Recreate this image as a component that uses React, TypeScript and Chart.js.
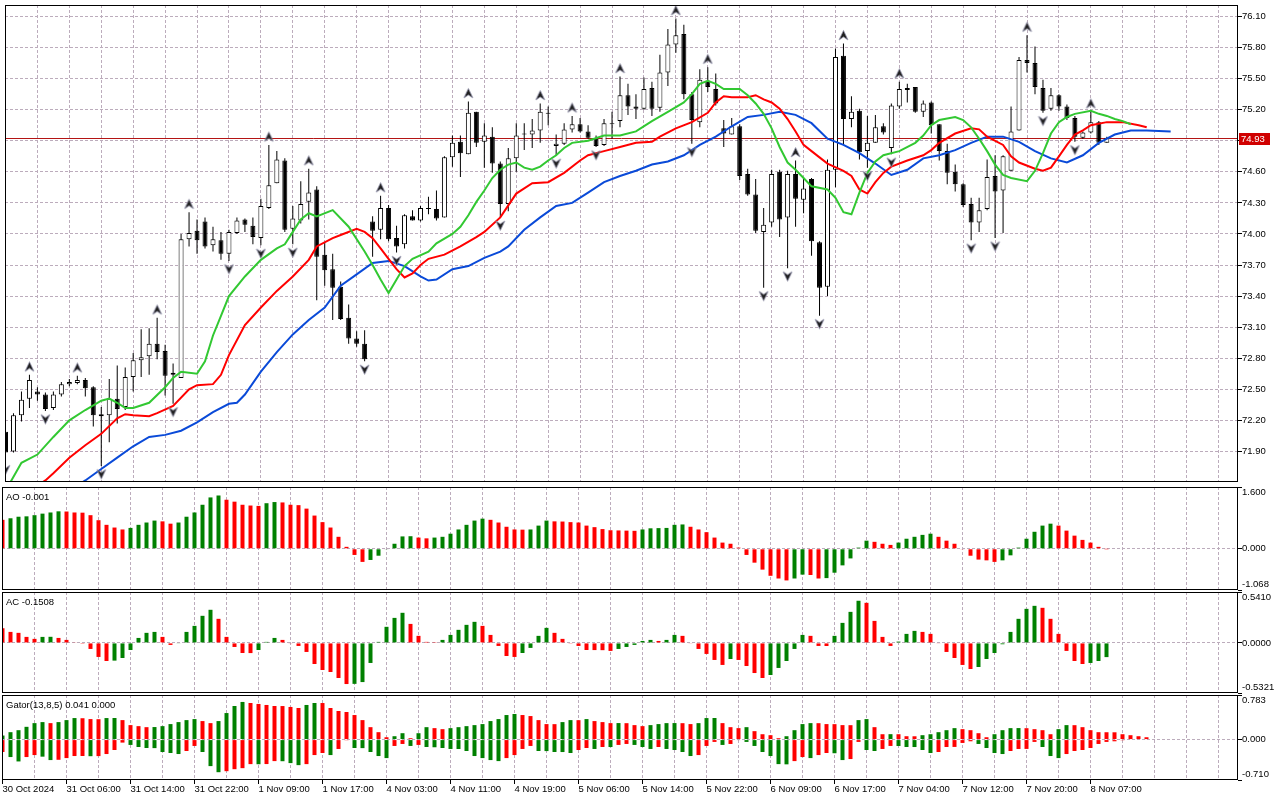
import React, { useEffect, useRef } from "react";
import { Chart, registerables } from "chart.js";

Chart.register(...registerables);

// ---------------- data ----------------
const opens = [72.09,71.90,72.25,72.41,72.48,72.45,72.32,72.45,72.55,72.56,72.59,72.52,72.26,72.25,72.41,72.33,72.62,72.78,72.82,72.94,72.87,72.66,72.61,73.95,74.03,74.12,73.89,73.94,73.81,74.01,74.14,74.08,73.96,74.25,74.49,74.71,74.05,74.13,74.31,74.43,73.80,73.66,73.49,73.19,72.99,72.94,74.12,74.04,74.25,73.96,73.90,74.17,74.13,74.25,74.24,74.16,74.74,74.89,74.77,75.18,74.89,74.94,74.68,74.29,74.73,74.96,74.96,75.00,75.17,74.85,74.87,75.01,75.06,74.99,74.92,74.86,75.06,75.09,75.34,75.23,75.21,75.41,75.22,75.56,75.83,75.93,75.35,75.08,75.48,75.40,75.02,74.96,75.04,74.58,74.38,74.02,74.11,74.60,74.16,74.58,74.33,74.53,73.92,73.49,74.62,75.72,75.11,75.19,74.80,74.88,75.04,74.83,75.23,75.39,75.42,75.18,75.27,75.06,74.80,74.60,74.48,74.29,74.11,74.24,74.56,74.42,74.61,75.00,75.68,75.65,75.41,75.21,75.34,75.23,75.12,74.93,74.98,75.08,74.88];
const highs = [72.15,72.27,72.48,72.64,72.52,72.47,72.48,72.57,72.60,72.63,72.61,72.53,72.33,72.60,72.73,72.71,72.85,73.08,73.09,73.19,72.93,72.75,74.00,74.21,74.14,74.16,74.07,74.02,74.04,74.16,74.15,74.16,74.34,74.86,74.80,74.73,74.27,74.51,74.63,74.46,73.92,73.81,73.54,73.32,73.06,73.07,74.17,74.37,74.28,74.08,74.19,74.23,74.27,74.36,74.42,74.75,74.95,74.95,75.28,75.18,75.07,75.03,74.70,74.83,75.07,75.07,75.11,75.26,75.23,74.96,75.07,75.14,75.12,75.05,74.95,75.11,75.18,75.52,75.45,75.35,75.51,75.47,75.73,75.98,76.08,76.02,75.37,75.59,75.61,75.55,75.10,75.12,75.06,74.63,74.53,74.25,74.62,74.62,74.61,74.71,74.53,74.54,73.93,74.72,75.79,75.84,75.33,75.21,75.14,75.15,75.07,75.26,75.47,75.45,75.42,75.29,75.28,75.06,74.87,74.67,74.49,74.35,74.35,74.72,74.76,74.76,75.23,75.71,75.92,75.81,75.49,75.41,75.35,75.25,75.14,74.99,75.18,75.09,74.94];
const lows = [71.80,71.89,72.19,72.32,72.39,72.29,72.30,72.43,72.53,72.55,72.43,72.14,71.76,71.99,72.17,72.30,72.48,72.62,72.64,72.79,72.44,72.36,72.61,73.88,73.81,73.86,73.83,73.75,73.74,74.00,74.02,73.90,73.89,74.24,74.49,74.02,73.90,74.10,74.14,73.36,73.50,73.17,73.17,72.94,72.91,72.77,73.78,73.95,73.93,73.82,73.86,74.13,74.12,74.19,74.13,74.16,74.65,74.55,74.77,74.84,74.64,74.59,74.16,74.22,74.60,74.81,74.83,74.88,75.05,74.76,74.86,74.98,74.98,74.92,74.84,74.85,74.92,75.03,75.15,75.11,75.20,75.14,75.18,75.43,75.75,75.30,74.87,75.03,75.37,75.24,74.84,74.96,74.52,74.37,74.01,73.48,74.07,73.97,73.67,74.07,74.20,73.79,73.21,73.40,74.45,74.86,75.03,74.72,74.64,74.88,74.96,74.77,75.21,75.27,75.17,75.13,74.97,74.71,74.48,74.41,74.26,73.94,74.02,74.23,73.96,74.01,74.61,75.00,75.56,75.35,75.17,75.19,75.19,75.10,74.89,74.92,74.97,74.86,74.88];
const closes = [71.89,72.25,72.40,72.59,72.45,72.31,72.45,72.55,72.57,72.59,72.51,72.25,72.24,72.41,72.31,72.62,72.78,72.81,72.94,72.86,72.63,72.64,73.95,74.01,73.94,73.88,73.95,73.81,74.02,74.13,74.09,73.97,74.27,74.47,74.72,74.04,74.15,74.29,74.40,73.78,73.65,73.48,73.18,72.99,72.94,72.79,74.03,74.25,73.95,73.88,74.18,74.13,74.25,74.24,74.15,74.74,74.88,74.78,75.17,74.88,74.95,74.68,74.29,74.73,74.95,74.97,75.00,75.18,75.16,74.87,75.01,75.06,74.99,74.93,74.85,75.07,75.07,75.34,75.23,75.21,75.40,75.21,75.56,75.83,75.92,75.35,75.10,75.49,75.42,75.26,74.97,75.04,74.56,74.38,74.03,74.09,74.58,74.14,74.58,74.34,74.44,73.93,73.48,74.62,75.71,75.11,75.18,74.79,74.88,75.03,74.98,75.24,75.40,75.41,75.18,75.26,75.05,74.80,74.59,74.48,74.28,74.11,74.23,74.55,74.41,74.75,74.99,75.68,75.65,75.42,75.19,75.34,75.23,75.12,74.94,74.98,75.08,74.88,74.93];

const upFractalBars = [3, 9, 19, 23, 33, 38, 47, 58, 67, 71, 77, 84, 88, 99, 105, 112, 128, 136];
const downFractalBars = [0, 5, 12, 21, 28, 32, 36, 45, 49, 62, 69, 74, 86, 95, 98, 102, 108, 111, 121, 124, 130, 134];

// Alligator (already shifted forward: jaw 8, teeth 5, lips 3)
const jawBars = [9,10,12,14,16,18,20,22,24,26,28,29,30,32,34,36,38,40,42,44,46,48,50,52,53,54,56,58,60,62,63,65,67,69,71,73,75,77,79,81,83,85,87,89,91,93,95,97,99,101,103,105,107,109,111,113,115,117,119,121,123,125,127,129,131,133,135,137,139,141,143,146];
const jawValues = [71.57,71.62,71.73,71.84,71.95,72.04,72.06,72.10,72.18,72.28,72.36,72.37,72.45,72.67,72.86,73.03,73.17,73.29,73.50,73.61,73.72,73.74,73.69,73.59,73.55,73.56,73.66,73.69,73.77,73.83,73.88,74.04,74.16,74.27,74.30,74.40,74.50,74.56,74.61,74.67,74.70,74.76,74.86,74.94,75.04,75.13,75.15,75.18,75.15,75.07,74.92,74.86,74.78,74.68,74.57,74.62,74.73,74.76,74.81,74.88,74.94,74.94,74.89,74.80,74.73,74.69,74.76,74.88,74.96,75.00,75.00,74.99];
const teethBars = [4,5,6,8,10,12,14,15,16,18,19,21,23,24,26,27,28,30,32,34,36,38,39,41,42,44,45,46,47,48,49,50,51,52,53,55,57,59,60,62,64,66,68,70,72,73,75,77,79,81,82,84,86,88,89,90,91,93,94,95,96,97,98,99,100,101,102,103,105,106,107,108,109,110,111,113,115,116,117,119,121,122,123,125,126,127,129,130,131,132,133,134,135,136,138,140,142,143];
const teethValues = [71.57,71.62,71.69,71.84,71.96,72.07,72.22,72.26,72.25,72.24,72.27,72.34,72.50,72.54,72.55,72.64,72.83,73.12,73.29,73.45,73.59,73.75,73.88,73.96,73.99,74.05,74.02,73.96,73.86,73.76,73.66,73.58,73.62,73.70,73.76,73.80,73.88,73.97,74.02,74.16,74.39,74.49,74.50,74.59,74.71,74.76,74.80,74.84,74.88,74.89,74.94,75.02,75.08,75.17,75.27,75.33,75.32,75.32,75.34,75.30,75.27,75.21,75.11,74.99,74.86,74.80,74.74,74.68,74.61,74.56,74.43,74.39,74.50,74.59,74.65,74.71,74.76,74.81,74.88,74.97,75.02,75.01,74.94,74.86,74.75,74.69,74.63,74.61,74.64,74.75,74.86,74.96,75.00,75.05,75.08,75.08,75.05,75.03];
const lipsBars = [0,2,4,6,8,10,12,13,14,15,16,18,20,21,22,24,25,26,27,28,30,32,34,35,36,37,38,39,41,43,45,46,47,48,49,50,51,53,54,56,57,58,59,60,61,62,63,64,65,66,67,68,69,70,71,73,75,77,79,81,83,85,86,87,88,89,90,92,93,94,95,96,97,98,99,100,101,103,104,105,106,107,108,109,110,112,114,115,116,117,119,120,121,122,123,124,125,126,128,129,130,131,132,133,134,136,137,138,139,140,141];
const lipsValues = [71.52,71.79,71.87,72.04,72.20,72.30,72.39,72.41,72.37,72.32,72.32,72.37,72.52,72.61,72.67,72.65,72.77,73.02,73.21,73.40,73.59,73.75,73.86,73.90,74.02,74.14,74.20,74.17,74.23,74.07,73.83,73.70,73.56,73.43,73.56,73.69,73.76,73.83,73.91,74.00,74.07,74.18,74.31,74.42,74.54,74.62,74.67,74.69,74.64,74.62,74.65,74.71,74.76,74.83,74.88,74.90,74.95,74.95,74.99,75.09,75.18,75.27,75.35,75.45,75.48,75.45,75.40,75.40,75.34,75.26,75.16,75.02,74.84,74.69,74.62,74.54,74.46,74.43,74.35,74.21,74.19,74.40,74.59,74.70,74.76,74.80,74.88,74.95,75.05,75.10,75.13,75.10,75.03,74.92,74.80,74.67,74.57,74.54,74.51,74.61,74.78,74.97,75.08,75.13,75.16,75.19,75.16,75.14,75.11,75.09,75.06];

const aoValues = [0.75,0.79,0.83,0.84,0.87,0.91,0.94,0.97,0.965,0.94,0.935,0.87,0.74,0.62,0.55,0.50,0.54,0.62,0.68,0.73,0.71,0.65,0.68,0.83,0.94,1.14,1.33,1.38,1.27,1.22,1.14,1.12,1.11,1.18,1.21,1.20,1.14,1.13,1.04,0.86,0.69,0.55,0.31,0.05,-0.16,-0.34,-0.29,-0.18,-0.01,0.13,0.32,0.325,0.29,0.27,0.29,0.31,0.39,0.50,0.62,0.73,0.78,0.75,0.68,0.57,0.50,0.495,0.50,0.60,0.73,0.71,0.705,0.69,0.68,0.60,0.56,0.51,0.48,0.475,0.47,0.465,0.50,0.53,0.535,0.54,0.62,0.63,0.57,0.50,0.43,0.29,0.16,0.13,0.03,-0.16,-0.36,-0.54,-0.70,-0.77,-0.82,-0.77,-0.67,-0.68,-0.77,-0.76,-0.62,-0.43,-0.25,0.03,0.21,0.18,0.13,0.10,0.16,0.26,0.31,0.36,0.39,0.31,0.21,0.13,-0.01,-0.18,-0.28,-0.30,-0.34,-0.30,-0.17,0.03,0.26,0.44,0.60,0.65,0.60,0.47,0.34,0.23,0.16,0.05,-0.001];
const acValues = [0.156,0.117,0.107,0.064,0.043,0.064,0.065,0.053,0.032,0.004,-0.002,-0.064,-0.149,-0.192,-0.188,-0.160,-0.075,0.053,0.107,0.117,0.064,-0.021,-0.004,0.117,0.181,0.288,0.352,0.256,0.064,-0.043,-0.107,-0.108,-0.075,0.011,0.053,0.032,-0.004,-0.032,-0.096,-0.224,-0.288,-0.309,-0.373,-0.437,-0.435,-0.416,-0.213,0.011,0.171,0.266,0.320,0.202,0.075,0.011,0.002,0.032,0.085,0.139,0.192,0.224,0.181,0.085,-0.032,-0.139,-0.149,-0.107,-0.053,0.075,0.160,0.107,0.043,-0.003,-0.032,-0.075,-0.076,-0.077,-0.085,-0.064,-0.043,-0.021,0.021,0.032,0.021,0.032,0.085,0.075,-0.004,-0.064,-0.117,-0.181,-0.234,-0.171,-0.181,-0.245,-0.320,-0.373,-0.341,-0.266,-0.192,-0.064,0.085,0.075,-0.032,-0.033,0.075,0.213,0.330,0.448,0.426,0.234,0.064,-0.032,0.014,0.096,0.128,0.117,0.096,-0.004,-0.096,-0.160,-0.234,-0.277,-0.256,-0.171,-0.107,-0.014,0.117,0.256,0.362,0.394,0.373,0.256,0.096,-0.085,-0.192,-0.224,-0.213,-0.192,-0.1508];
const gatorUpper = [0.071,0.130,0.165,0.224,0.289,0.307,0.289,0.307,0.342,0.378,0.375,0.360,0.358,0.378,0.379,0.342,0.254,0.236,0.218,0.220,0.236,0.272,0.307,0.342,0.360,0.325,0.289,0.325,0.466,0.590,0.661,0.643,0.626,0.608,0.590,0.589,0.573,0.555,0.608,0.643,0.642,0.555,0.502,0.484,0.431,0.342,0.218,0.130,0.041,0.059,0.112,0.024,0.112,0.218,0.201,0.183,0.201,0.218,0.236,0.254,0.272,0.325,0.360,0.431,0.449,0.431,0.413,0.342,0.272,0.271,0.307,0.342,0.341,0.360,0.325,0.307,0.289,0.290,0.288,0.254,0.236,0.254,0.272,0.289,0.290,0.288,0.272,0.289,0.378,0.379,0.289,0.218,0.201,0.218,0.148,0.094,0.077,0.024,0.059,0.165,0.272,0.289,0.288,0.272,0.271,0.254,0.253,0.342,0.360,0.218,0.094,0.095,0.094,0.059,0.058,0.077,0.094,0.130,0.165,0.201,0.183,0.165,0.112,0.041,0.094,0.165,0.201,0.202,0.200,0.183,0.165,0.094,0.183,0.254,0.253,0.218,0.165,0.130,0.129,0.128,0.094,0.077,0.059,0.041];
const gatorLower = [-0.218,-0.307,-0.384,-0.307,-0.272,-0.300,-0.360,-0.355,-0.325,-0.289,-0.288,-0.292,-0.290,-0.254,-0.183,-0.053,-0.094,-0.130,-0.148,-0.150,-0.218,-0.236,-0.254,-0.201,-0.112,-0.218,-0.466,-0.573,-0.555,-0.520,-0.502,-0.431,-0.433,-0.430,-0.378,-0.380,-0.413,-0.449,-0.431,-0.272,-0.236,-0.272,-0.165,-0.012,-0.148,-0.150,-0.218,-0.289,-0.325,-0.112,-0.077,-0.112,-0.094,-0.130,-0.135,-0.148,-0.165,-0.166,-0.201,-0.289,-0.325,-0.360,-0.378,-0.325,-0.272,-0.165,-0.112,-0.201,-0.202,-0.218,-0.219,-0.236,-0.183,-0.148,-0.165,-0.130,-0.131,-0.094,-0.077,-0.094,-0.130,-0.165,-0.130,-0.165,-0.183,-0.218,-0.289,-0.272,-0.112,-0.041,-0.094,-0.077,-0.010,-0.041,-0.112,-0.218,-0.289,-0.431,-0.435,-0.378,-0.307,-0.325,-0.272,-0.236,-0.240,-0.360,-0.342,-0.041,-0.183,-0.201,-0.165,-0.112,-0.113,-0.130,-0.131,-0.183,-0.236,-0.218,-0.130,-0.129,-0.059,-0.030,-0.077,-0.148,-0.236,-0.254,-0.201,-0.165,-0.164,-0.041,-0.130,-0.289,-0.325,-0.254,-0.201,-0.183,-0.148,-0.077,-0.041,-0.030,-0.012,0];

const priceTicks = [71.9, 72.2, 72.5, 72.8, 73.1, 73.4, 73.7, 74.0, 74.3, 74.6, 74.9, 75.2, 75.5, 75.8, 76.1];
const timeLabelBars = [0, 8, 16, 24, 32, 40, 48, 56, 64, 72, 80, 88, 96, 104, 112, 120, 128, 136];
const timeLabels = ["30 Oct 2024", "31 Oct 06:00", "31 Oct 14:00", "31 Oct 22:00", "1 Nov 09:00", "1 Nov 17:00", "4 Nov 03:00", "4 Nov 11:00", "4 Nov 19:00", "5 Nov 06:00", "5 Nov 14:00", "5 Nov 22:00", "6 Nov 09:00", "6 Nov 17:00", "7 Nov 04:00", "7 Nov 12:00", "7 Nov 20:00", "8 Nov 07:00"];
const bidPrice = 74.93;
const gatorParams = [13, 8, 5];
const aoRange = [-1.068, 1.6];
const acRange = [-0.5321, 0.541];
const gatorRange = [-0.71, 0.783];
const priceRange = [71.605, 76.211];

// ---------------- style ----------------
const FONT_FAMILY = "'Liberation Sans', Arial, sans-serif";
const FONT_SIZE = 9.5;
const FONT = { family: FONT_FAMILY, size: FONT_SIZE };
const GRID = "rgb(188,172,188)";
const DASH = [3, 2];
const UP = "#008000";
const DOWN = "#ff0000";
const X_MIN = -0.0625;
const X_MAX = 154.4375;
const AXIS_W = 42;
const NONE = "rgba(0,0,0,0)";

Chart.defaults.font.family = FONT_FAMILY;
Chart.defaults.font.size = FONT_SIZE;

function trendColors(values: number[], first: string, useAbs: boolean): string[] {
  const out: string[] = [];
  values.forEach((v, i) => {
    if (i === 0) { out.push(first); return; }
    const a = useAbs ? Math.abs(v) : v;
    const b = useAbs ? Math.abs(values[i - 1]) : values[i - 1];
    out.push(a > b ? UP : a < b ? DOWN : out[i - 1]);
  });
  return out;
}

function makeFractalImage(up: boolean): HTMLCanvasElement {
  const c = document.createElement("canvas");
  c.width = 11;
  c.height = 33;
  const g = c.getContext("2d")!;
  g.beginPath();
  if (up) {
    g.moveTo(5.5, 3.5);
    g.lineTo(10, 13);
    g.lineTo(5.5, 10);
    g.lineTo(1, 13);
  } else {
    g.moveTo(5.5, 29.5);
    g.lineTo(1, 20);
    g.lineTo(5.5, 23);
    g.lineTo(10, 20);
  }
  g.closePath();
  g.fillStyle = "#1e1e1e";
  g.fill();
  g.lineWidth = 0.9;
  g.strokeStyle = "rgba(150,150,175,0.9)";
  g.stroke();
  return c;
}

const framePlugin = {
  id: "frame",
  afterDraw(chart: any) {
    const { ctx, chartArea: a } = chart;
    ctx.save();
    ctx.strokeStyle = "#000";
    ctx.lineWidth = 1;
    ctx.strokeRect(a.left + 0.5, a.top + 0.5, a.right - a.left - 1, a.bottom - a.top - 1);
    ctx.restore();
  },
};

function titlePlugin(text: string) {
  return {
    id: "panelTitle",
    afterDraw(chart: any) {
      const { ctx, chartArea: a } = chart;
      ctx.save();
      ctx.font = `${FONT_SIZE}px ${FONT_FAMILY}`;
      ctx.fillStyle = "#000";
      ctx.textBaseline = "middle";
      ctx.textAlign = "left";
      ctx.fillText(text, a.left + 4, a.top + 10);
      ctx.restore();
    },
  };
}

const bidPlugin = {
  id: "bid",
  beforeDatasetsDraw(chart: any) {
    const { ctx, chartArea: a, scales } = chart;
    const y = Math.round(scales.y.getPixelForValue(bidPrice)) + 0.5;
    ctx.save();
    ctx.strokeStyle = "#b41414";
    ctx.lineWidth = 1;
    ctx.beginPath();
    ctx.moveTo(a.left, y);
    ctx.lineTo(a.right, y);
    ctx.stroke();
    ctx.restore();
  },
  afterDraw(chart: any) {
    const { ctx, chartArea: a, scales } = chart;
    const y = Math.round(scales.y.getPixelForValue(bidPrice));
    ctx.save();
    ctx.fillStyle = "#d00000";
    ctx.fillRect(a.right + 1, y - 5, 31, 12);
    ctx.fillStyle = "#fff";
    ctx.font = `${FONT_SIZE}px ${FONT_FAMILY}`;
    ctx.textBaseline = "middle";
    ctx.textAlign = "left";
    ctx.fillText(bidPrice.toFixed(2), a.right + 3, y + 1);
    ctx.restore();
  },
};

function xScale(showLabels: boolean) {
  return {
    type: "linear",
    min: X_MIN,
    max: X_MAX,
    offset: false,
    grid: {
      display: true,
      offset: false,
      drawOnChartArea: true,
      drawTicks: showLabels,
      tickLength: 4,
      color: GRID,
      lineWidth: 1,
      tickColor: (ctx: any) => (ctx.tick && timeLabelBars.includes(ctx.tick.value) ? "#000" : NONE),
    },
    border: { display: false, dash: DASH },
    ticks: {
      display: showLabels,
      stepSize: 4,
      maxTicksLimit: 200,
      includeBounds: false,
      autoSkip: false,
      maxRotation: 0,
      minRotation: 0,
      align: "start",
      padding: 0,
      color: "#000",
      font: FONT,
      callback: (v: any) => {
        const k = timeLabelBars.indexOf(Number(v));
        return k >= 0 ? timeLabels[k] : "";
      },
    },
    afterFit: (s: any) => {
      s.height = showLabels ? 20 : 0;
      s.paddingLeft = 0;
      s.paddingRight = 0;
    },
  };
}

function subYScale(range: number[], digits: number) {
  const [min, max] = range;
  return {
    position: "right",
    min,
    max,
    afterBuildTicks: (s: any) => {
      s.ticks = [{ value: max }, { value: 0 }, { value: min }];
    },
    grid: {
      color: (ctx: any) => (ctx.tick && ctx.tick.value === 0 ? GRID : NONE),
      drawTicks: true,
      tickLength: 4,
      tickColor: "#000",
    },
    border: { display: false, dash: DASH },
    ticks: {
      padding: 0,
      color: "#000",
      font: FONT,
      callback: (v: any) => {
        const t = Number(v).toFixed(digits);
        if (v === max) return ["", t];
        if (v === min) return [t, ""];
        return t;
      },
    },
    afterFit: (s: any) => {
      s.width = AXIS_W;
      s.paddingTop = 0;
      s.paddingBottom = 0;
    },
  };
}

function baseOptions(scales: any, padding: any) {
  return {
    responsive: false,
    maintainAspectRatio: false,
    animation: false,
    devicePixelRatio: 1,
    events: [],
    layout: { padding },
    plugins: { legend: { display: false }, tooltip: { enabled: false }, title: { display: false } },
    scales,
  };
}

function histDataset(values: number[], colors: string[]) {
  return {
    type: "bar",
    data: values.map((v, i) => ({ x: i, y: v })),
    backgroundColor: colors,
    borderWidth: 0,
    barThickness: 4,
    grouped: false,
    inflateAmount: 0,
    clip: 0,
  };
}

export default function App() {
  const mainRef = useRef<HTMLCanvasElement>(null);
  const aoRef = useRef<HTMLCanvasElement>(null);
  const acRef = useRef<HTMLCanvasElement>(null);
  const gatorRef = useRef<HTMLCanvasElement>(null);

  useEffect(() => {
    const charts: Chart[] = [];
    const upImg = makeFractalImage(true);
    const downImg = makeFractalImage(false);
    const bars = opens.map((_, i) => i);

    const line = (xs: number[], ys: number[], color: string, order: number) => ({
      type: "line",
      data: xs.map((x, k) => ({ x, y: ys[k] })),
      borderColor: color,
      borderWidth: 2,
      pointRadius: 0,
      tension: 0,
      fill: false,
      order,
      clip: 0,
    });

    // ---- main price chart ----
    charts.push(
      new Chart(mainRef.current as any, {
        type: "bar",
        data: {
          datasets: [
            {
              type: "line",
              data: upFractalBars.map((i) => ({ x: i, y: highs[i] })),
              showLine: false,
              pointStyle: upImg,
              pointRadius: 4,
              order: 0,
              clip: 0,
            },
            {
              type: "line",
              data: downFractalBars.map((i) => ({ x: i, y: lows[i] })),
              showLine: false,
              pointStyle: downImg,
              pointRadius: 4,
              order: 0,
              clip: 0,
            },
            line(lipsBars, lipsValues, "#32c832", 1),
            line(teethBars, teethValues, "#ff0000", 2),
            line(jawBars, jawValues, "#0a4ad8", 3),
            {
              type: "bar",
              data: bars.map((i) => ({ x: i, y: [Math.min(opens[i], closes[i]), Math.max(opens[i], closes[i])] })),
              backgroundColor: bars.map((i) => (closes[i] >= opens[i] ? "#ffffff" : "#000000")),
              borderColor: "#000",
              borderWidth: 1,
              borderSkipped: false,
              barThickness: 5,
              minBarLength: 1,
              grouped: false,
              inflateAmount: 0,
              order: 4,
              clip: 0,
            },
            {
              type: "bar",
              data: bars.map((i) => ({ x: i, y: [lows[i], highs[i]] })),
              backgroundColor: "#000",
              borderWidth: 0,
              barThickness: 1,
              grouped: false,
              inflateAmount: 0,
              order: 5,
              clip: 0,
            },
          ],
        },
        options: baseOptions(
          {
            x: xScale(false),
            y: {
              position: "right",
              min: priceRange[0],
              max: priceRange[1],
              afterBuildTicks: (s: any) => {
                s.ticks = priceTicks.map((v) => ({ value: v }));
              },
              grid: { color: GRID, drawTicks: true, tickLength: 4, tickColor: "#000" },
              border: { display: false, dash: DASH },
              ticks: { padding: 0, color: "#000", font: FONT, callback: (v: any) => Number(v).toFixed(2) },
              afterFit: (s: any) => {
                s.width = AXIS_W;
                s.paddingTop = 0;
                s.paddingBottom = 0;
              },
            },
          },
          { left: 2, top: 1, bottom: 1, right: 0 }
        ) as any,
        plugins: [bidPlugin, framePlugin],
      } as any)
    );

    // ---- AO ----
    charts.push(
      new Chart(aoRef.current as any, {
        type: "bar",
        data: { datasets: [histDataset(aoValues, trendColors(aoValues, DOWN, false))] },
        options: baseOptions({ x: xScale(false), y: subYScale(aoRange, 3) }, { left: 2, top: 0, bottom: 1, right: 0 }) as any,
        plugins: [framePlugin, titlePlugin(`AO ${aoValues[aoValues.length - 1].toFixed(3)}`)],
      } as any)
    );

    // ---- AC ----
    charts.push(
      new Chart(acRef.current as any, {
        type: "bar",
        data: { datasets: [histDataset(acValues, trendColors(acValues, DOWN, false))] },
        options: baseOptions({ x: xScale(false), y: subYScale(acRange, 4) }, { left: 2, top: 1, bottom: 1, right: 0 }) as any,
        plugins: [framePlugin, titlePlugin(`AC ${acValues[acValues.length - 1].toFixed(4)}`)],
      } as any)
    );

    // ---- Gator ----
    const gTitle = `Gator(${gatorParams.join(",")}) ${gatorUpper[gatorUpper.length - 1].toFixed(3)} ${Math.abs(
      gatorLower[gatorLower.length - 1]
    ).toFixed(3)}`;
    charts.push(
      new Chart(gatorRef.current as any, {
        type: "bar",
        data: {
          datasets: [
            histDataset(gatorUpper, trendColors(gatorUpper, UP, true)),
            histDataset(gatorLower, trendColors(gatorLower, DOWN, true)),
          ],
        },
        options: baseOptions({ x: xScale(true), y: subYScale(gatorRange, 3) }, { left: 2, top: 1, bottom: 0, right: 0 }) as any,
        plugins: [framePlugin, titlePlugin(gTitle)],
      } as any)
    );

    return () => charts.forEach((c) => c.destroy());
  }, []);

  const abs = (top: number): React.CSSProperties => ({ position: "absolute", left: 0, top, display: "block" });

  return (
    <div style={{ position: "absolute", left: 0, top: 0, width: 1280, height: 800, background: "#fff", overflow: "hidden" }}>
      <canvas ref={mainRef} width={1280} height={487} style={abs(0)} />
      <canvas ref={aoRef} width={1280} height={104} style={abs(487)} />
      <canvas ref={acRef} width={1280} height={103} style={abs(591)} />
      <canvas ref={gatorRef} width={1280} height={106} style={abs(694)} />
    </div>
  );
}
